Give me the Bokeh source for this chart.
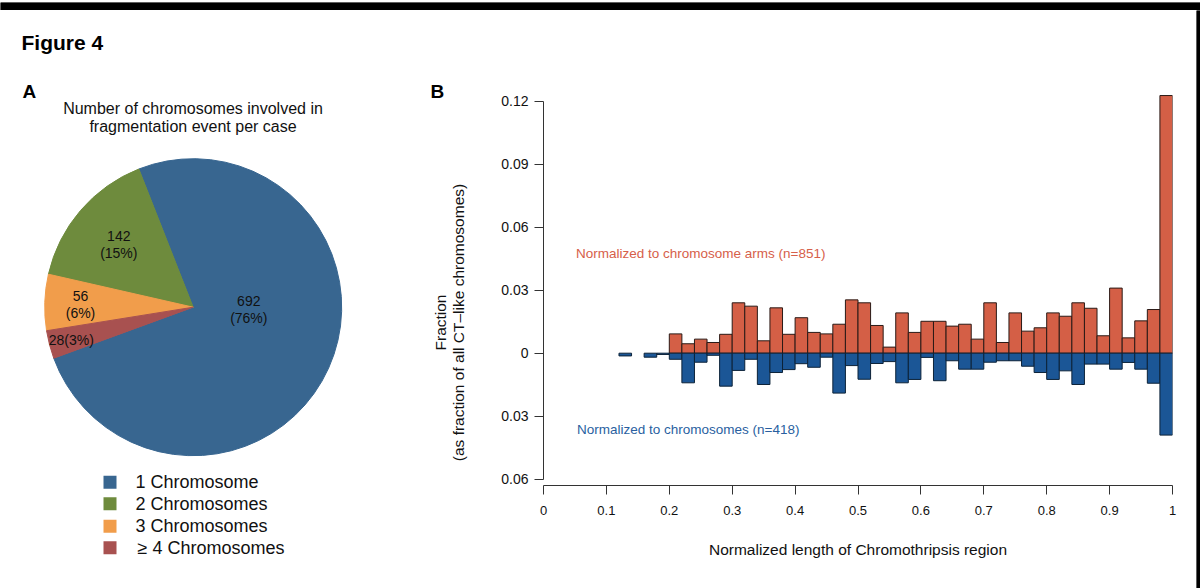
import math
from bokeh.plotting import figure
from bokeh.layouts import row, column
from bokeh.models import Range1d, FixedTicker, CustomJSTickFormatter, Label, ColumnDataSource
from bokeh.embed import file_html
from bokeh.resources import INLINE
from bokeh.core.properties import value

# ---------------- Panel A data ----------------
pie_categories = ["1 Chromosome", "2 Chromosomes", "3 Chromosomes", "\u2265 4 Chromosomes"]
pie_counts = [692, 142, 56, 28]
pie_percent = [76, 15, 6, 3]
pie_colors = ["#386690", "#6e8b3d", "#f19d4b", "#a85150"]

# ---------------- Panel B data ----------------
bin_width = 0.02
bin_left = [round(bin_width * i, 2) for i in range(50)]
arms_fraction = [0, 0, 0, 0, 0, 0, 0, 0, 0, 0,
                 0.0092, 0.0045, 0.0067, 0.0051, 0.0090, 0.0240, 0.0224, 0.0059, 0.0216, 0.0090,
                 0.0169, 0.0099, 0.0092, 0.0138, 0.0254, 0.0240, 0.0132, 0.0029, 0.0192, 0.0099,
                 0.0152, 0.0152, 0.0129, 0.0138, 0.0067, 0.0240, 0.0051, 0.0192, 0.0105, 0.0121,
                 0.0192, 0.0176, 0.0240, 0.0214, 0.0083, 0.0310, 0.0073, 0.0154, 0.0208, 0.1227]
chrom_fraction = [0, 0, 0, 0, 0, 0, 0.0013, 0, 0.0019, 0.0006,
                  0.0029, 0.0141, 0.0043, 0.0010, 0.0157, 0.0082, 0.0029, 0.0149, 0.0092, 0.0078,
                  0.0050, 0.0067, 0.0019, 0.0190, 0.0059, 0.0124, 0.0049, 0.0040, 0.0141, 0.0125,
                  0.0020, 0.0131, 0.0036, 0.0076, 0.0076, 0.0043, 0.0036, 0.0036, 0.0062, 0.0092,
                  0.0125, 0.0084, 0.0149, 0.0052, 0.0052, 0.0076, 0.0044, 0.0076, 0.0143, 0.0390]
y_ticks = [-0.06, -0.03, 0, 0.03, 0.06, 0.09, 0.12]
x_ticks = [0, 0.1, 0.2, 0.3, 0.4, 0.5, 0.6, 0.7, 0.8, 0.9, 1]

FONT = "Liberation Sans"
TOP = 10          # black band at the top
H = 588 - TOP     # height of the main row
W_A = 428         # pie panel
W_T = 44          # y-label / "B" strip
W_R = 4           # black strip at the right
W_B = 1200 - W_A - W_T - W_R


def blank_fig(w, h, x0, color=None):
    f = figure(width=w, height=h, x_range=Range1d(x0, x0 + w), y_range=Range1d(0, h),
               output_backend="svg", toolbar_location=None, x_axis_type=None,
               y_axis_type=None, min_border=0, frame_align=False)
    f.outline_line_color = None
    if color is not None:
        f.background_fill_color = color
        f.border_fill_color = color
    return f


def Y(ref_y):
    return 588 - ref_y


# ---------------- top band / right strip ----------------
band = blank_fig(1200, TOP, 0, "#000000")
band.rect(x=[600], y=[TOP / 2], width=1200, height=TOP, fill_color="#000000", line_color=None)
rstrip = blank_fig(W_R, H, 0, "#000000")
rstrip.rect(x=[W_R / 2], y=[H / 2], width=W_R, height=H, fill_color="#000000", line_color=None)

# ---------------- Panel A ----------------
pa = blank_fig(W_A, H, 0)

total = sum(pie_counts)
start0 = math.radians(-159.9)
starts, ends = [], []
acc = start0
for c in pie_counts:
    starts.append(acc)
    acc += 2 * math.pi * c / total
    ends.append(acc)

pie_src = ColumnDataSource(dict(start=starts, end=ends, color=pie_colors, cat=pie_categories))
pa.wedge(x=192.7, y=Y(306.7), radius=148.5, start_angle="start", end_angle="end",
         fill_color="color", line_color="color", source=pie_src)

lab_text = [str(pie_counts[0]), f"({pie_percent[0]}%)",
            str(pie_counts[1]), f"({pie_percent[1]}%)",
            str(pie_counts[2]), f"({pie_percent[2]}%)",
            f"{pie_counts[3]}({pie_percent[3]}%)"]
lab_x = [248.3, 248.3, 118.3, 118.3, 80, 80, 70.8]
lab_y = [Y(300), Y(317.5), Y(235), Y(252.5), Y(295), Y(312.5), Y(339.2)]
pa.text(x=lab_x, y=lab_y, text=lab_text, text_font=value(FONT), text_font_size="14px",
        text_align="center", text_baseline="middle", text_color="#111111")

pa.text(x=[21], y=[Y(41.7)], text=["Figure 4"], text_font=value(FONT), text_font_size="21px",
        text_font_style="bold", text_baseline="alphabetic", text_color="#000000")
pa.text(x=[22], y=[Y(90.7)], text=["A"], text_font=value(FONT), text_font_size="19px",
        text_font_style="bold", text_baseline="alphabetic", text_color="#000000")
pa.text(x=[192.5, 192.5], y=[Y(108.3), Y(126.3)],
        text=["Number of chromosomes involved in", "fragmentation event per case"],
        text_font=value(FONT), text_font_size="16px", text_align="center",
        text_baseline="alphabetic", text_color="#111111")

leg_y = [Y(481.7), Y(503.3), Y(525.7), Y(547.3)]
pa.rect(x=[109.5] * 4, y=leg_y, width=13, height=13, fill_color=pie_colors, line_color=None)
pa.text(x=[135, 135, 135, 137], y=leg_y, text=pie_categories, text_font=value(FONT),
        text_font_size="18px", text_baseline="middle", text_color="#111111")

# ---------------- label strip for panel B ----------------
pt = blank_fig(W_T, H, W_A)
pt.text(x=[430], y=[Y(91)], text=["B"], text_font=value(FONT), text_font_size="19px",
        text_font_style="bold", text_baseline="alphabetic", text_color="#000000")
pt.text(x=[440, 458], y=[Y(322), Y(322)],
        text=["Fraction", "(as fraction of all CT\u2013like chromosomes)"],
        angle=math.pi / 2, text_font=value(FONT), text_font_size="15.5px",
        text_align="center", text_baseline="middle", text_color="#111111")

# ---------------- Panel B ----------------
pb = figure(width=W_B, height=H, x_range=Range1d(0, 1), y_range=Range1d(-0.0630, 0.12605),
            min_border_left=71, min_border_right=24, min_border_top=78, min_border_bottom=103,
            output_backend="svg", toolbar_location=None, frame_align=False)
pb.xgrid.visible = False
pb.ygrid.visible = False
pb.outline_line_color = None

red_l = [b for b, v in zip(bin_left, arms_fraction) if v > 0]
red_t = [v for v in arms_fraction if v > 0]
blue_l = [b for b, v in zip(bin_left, chrom_fraction) if v > 0]
blue_b = [-v for v in chrom_fraction if v > 0]

pb.quad(left=red_l, right=[l + bin_width for l in red_l], bottom=0, top=red_t,
        fill_color="#d45f46", line_color="#2a1a16", line_width=1)
pb.quad(left=blue_l, right=[l + bin_width for l in blue_l], top=0, bottom=blue_b,
        fill_color="#1b5696", line_color="#0c2238", line_width=1)

fmt = CustomJSTickFormatter(code="return String(Math.abs(tick));")
for ax, ticks in ((pb.yaxis[0], y_ticks), (pb.xaxis[0], x_ticks)):
    ax.ticker = FixedTicker(ticks=ticks)
    ax.formatter = fmt
    ax.bounds = (ticks[0], ticks[-1])
    ax.minor_tick_line_color = None
    ax.major_tick_in = 0
    ax.major_tick_out = 9
    ax.axis_line_color = "#333333"
    ax.major_tick_line_color = "#333333"
    ax.major_label_text_font = FONT
    ax.major_label_text_color = "#111111"

pb.yaxis[0].major_label_text_font_size = "14px"
pb.xaxis[0].major_label_text_font_size = "13px"
pb.yaxis[0].major_label_standoff = 6
pb.xaxis[0].major_label_standoff = 11
pb.xaxis[0].axis_label = "Normalized length of Chromothripsis region"
pb.xaxis[0].axis_label_text_font = FONT
pb.xaxis[0].axis_label_text_font_size = "15.5px"
pb.xaxis[0].axis_label_text_font_style = "normal"
pb.xaxis[0].axis_label_text_color = "#111111"
pb.xaxis[0].axis_label_standoff = 23


def fx(ref_x):
    return (ref_x - 543.0) / 629.0


def fy(ref_y):
    return (352.7 - ref_y) / 2100.0


pb.add_layout(Label(x=fx(575.5), y=fy(252.5), text="Normalized to chromosome arms (n=851)",
                    text_font=FONT, text_font_size="13.5px", text_baseline="middle",
                    text_color="#d6604a"))
pb.add_layout(Label(x=fx(576.5), y=fy(429), text="Normalized to chromosomes (n=418)",
                    text_font=FONT, text_font_size="13.5px", text_baseline="middle",
                    text_color="#2a5f9f"))

layout = column(band, row(pa, pt, pb, rstrip))
open("out.html", "w").write(file_html(layout, INLINE))
